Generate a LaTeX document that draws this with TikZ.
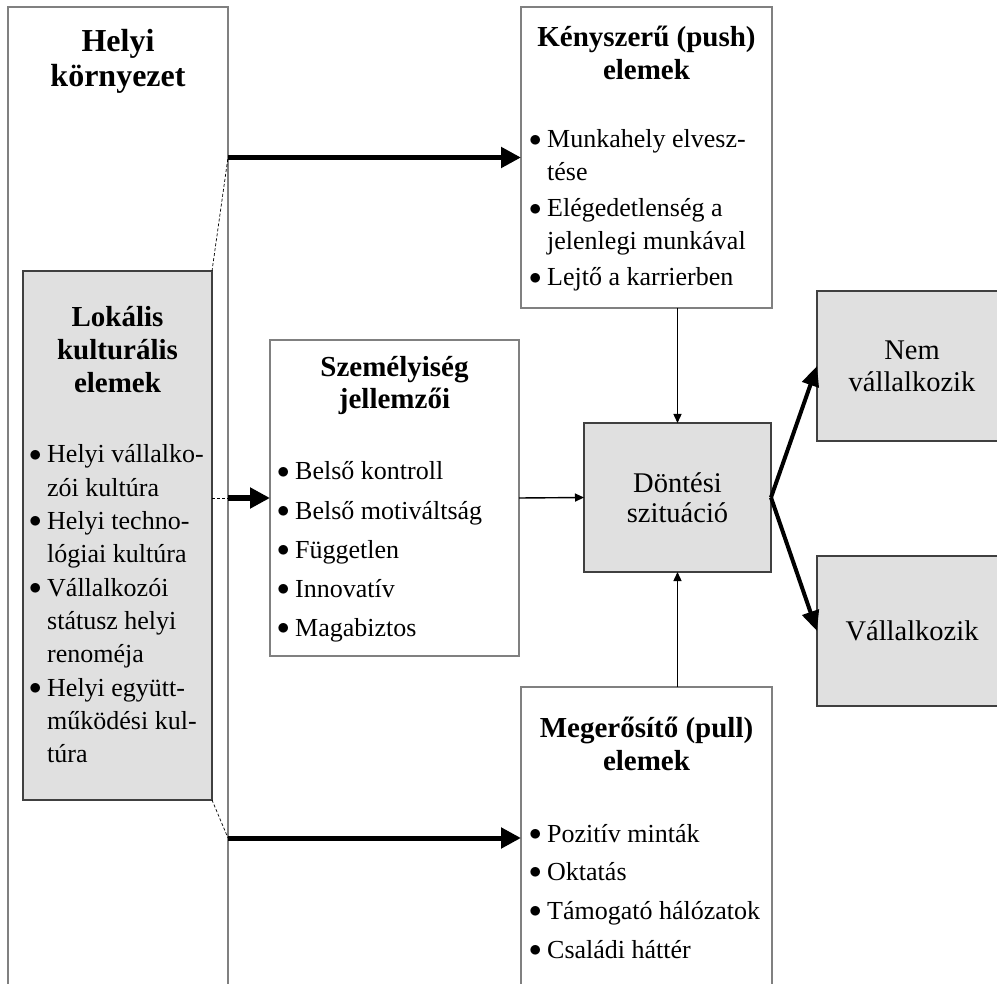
\documentclass[tikz,border=0pt]{standalone}
\usepackage{fontspec}
\setmainfont{Liberation Serif}
\usepackage{array}
\usepackage{graphicx}
\usetikzlibrary{arrows.meta, positioning, calc}
\newcommand{\pont}{\makebox[18pt][l]{\raisebox{1.8pt}{\scalebox{1}{$\bullet$}}}}
\newcommand{\sorok}[1]{\begin{tabular}[t]{@{}c@{}}#1\end{tabular}}
\newcommand{\lista}[1]{\begin{tabular}[t]{@{}l@{}l@{}}#1\end{tabular}}

\begin{document}
\begin{tikzpicture}[x=1pt,y=-1pt,>={Triangle[length=20pt,width=20pt]},
                doboz/.style={draw=black!50,line width=1.2pt,fill=white,inner sep=0pt,
                outer sep=0pt,anchor=north west},
                szurke/.style={doboz,draw=black!75,fill=black!12,align=center,
                font=\fontsize{28.5}{31}\selectfont},
                cimsor/.style={font=\bfseries\fontsize{29}{33}\selectfont,inner sep=0pt,anchor=base},
                pontsor/.style={font=\fontsize{26}{33}\selectfont,inner sep=0pt,anchor=base west},
                vastag/.style={->,line width=5pt},
                ferde/.style={-{Triangle[length=20pt,width=17pt]},line width=4pt},
                vekony/.style={-{Triangle[length=9pt,width=8pt]},line width=1.4pt},
                szaggatott/.style={dashed,dash pattern=on 3pt off 2pt,line width=0.7pt}]
                \useasboundingbox (0,0) rectangle (997,984);
                \node[doboz,minimum width=220pt,minimum height=1000pt] (env) at (8,7) {};
                \node[doboz,draw=black!75,fill=black!12,minimum width=189pt,minimum height=529pt] (lok) at (23,271) {};
                \node[doboz,minimum width=251pt,minimum height=301pt] (push) at (521,7) {};
                \node[doboz,minimum width=249pt,minimum height=316pt] (szem) at (270,340) {};
                \node[doboz,minimum width=251pt,minimum height=302pt] (pull) at (521,687) {};
                \node[szurke,minimum width=187pt,minimum height=149pt,font=\fontsize{28.5}{30}\selectfont] (dont) at (584,423) {Döntési\\szituáció};
                \node[szurke,minimum width=190pt,minimum height=150pt,font=\fontsize{28.5}{32}\selectfont] (nem) at (817,291) {Nem\\vállalkozik};
                \node[szurke,minimum width=190pt,minimum height=150pt] (vall) at (817,556) {Vállalkozik};
                \node[cimsor,font=\bfseries\fontsize{32}{35}\selectfont] (envT) at (118,52) {\sorok{Helyi\\környezet}};
                \node[cimsor] (lokT) at (117.5,327) {\sorok{Lokális\\kulturális\\elemek}};
                \node[cimsor] (pushT) at (646.5,47) {\sorok{Kényszerű (push)\\elemek}};
                \node[cimsor,font=\bfseries\fontsize{29}{32}\selectfont] (szemT) at (394.5,377) {\sorok{Személyiség\\jellemzői}};
                \node[cimsor] (pullT) at (646.5,737) {\sorok{Megerősítő (pull)\\elemek}};
                \node[pontsor,font=\fontsize{26}{33.3}\selectfont] (lokL) at (29,463) {\lista{%
                \pont & Helyi vállalko-\\ & zói kultúra\\
                \pont & Helyi techno-\\ & lógiai kultúra\\
                \pont & Vállalkozói\\ & státusz helyi\\ & renoméja\\
                \pont & Helyi együtt-\\ & működési kul-\\ & túra}};
                \node[pontsor] (pushL) at (529,148) {\lista{%
                \pont & Munkahely elvesz-\\ & tése\\[3pt]
                \pont & Elégedetlenség a\\ & jelenlegi munkával\\[3pt]
                \pont & Lejtő a karrierben}};
                \node[pontsor] (szemL) at (277,480) {\lista{%
                \pont & Belső kontroll\\[6.2pt]
                \pont & Belső motiváltság\\[6.2pt]
                \pont & Független\\[6.2pt]
                \pont & Innovatív\\[6.2pt]
                \pont & Magabiztos}};
                \node[pontsor] (pullL) at (529,842) {\lista{%
                \pont & Pozitív minták\\[5.7pt]
                \pont & Oktatás\\[5.7pt]
                \pont & Támogató hálózatok\\[5.7pt]
                \pont & Családi háttér}};
                \draw[vastag] (push.west -| env.east) -- (push.west);
                \draw[vastag] (szem.west -| env.east) -- (szem.west);
                \draw[vastag] (pull.west -| env.east) -- (pull.west);
                \draw[szaggatott] (lok.north east) -- (push.west -| env.east);
                \draw[szaggatott] (szem.west -| lok.east) -- (szem.west -| env.east);
                \draw[szaggatott] (lok.south east) -- (pull.west -| env.east);
                \draw[vekony] (szem.east) -- (dont.west);
                \draw[vekony] (push.south -| dont.north) -- (dont.north);
                \draw[vekony] (pull.north -| dont.south) -- (dont.south);
                \draw[ferde] (dont.east) -- (nem.west);
                \draw[ferde] (dont.east) -- (vall.west);
            \end{tikzpicture}
\end{document}
